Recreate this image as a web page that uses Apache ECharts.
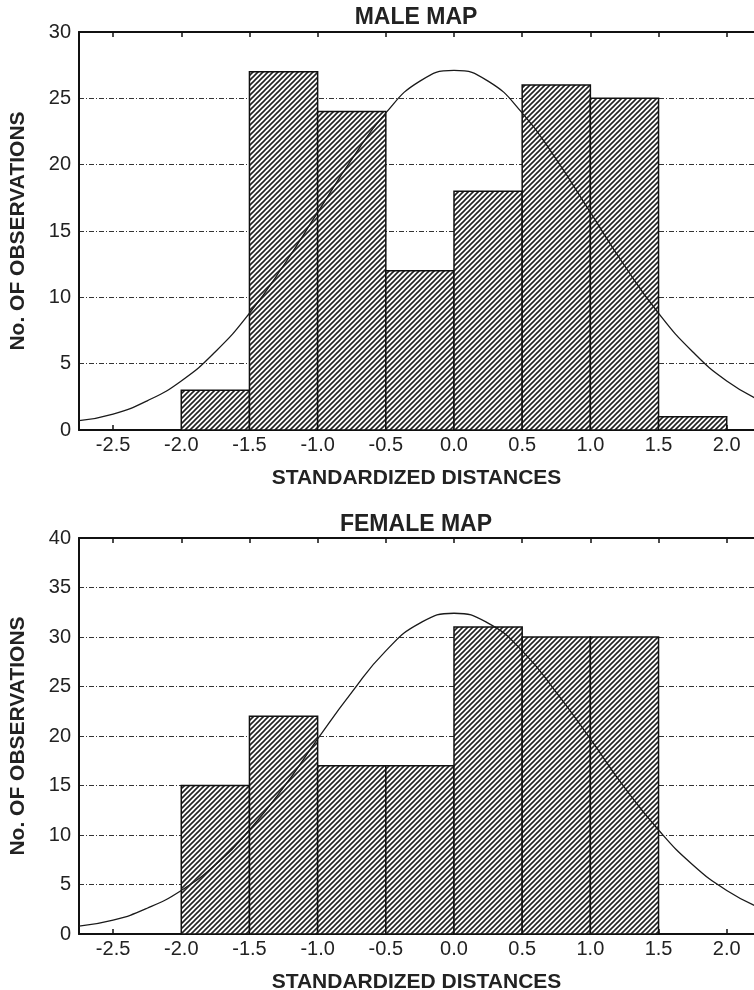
<!DOCTYPE html>
<html>
<head>
<meta charset="utf-8">
<script src="https://cdn.jsdelivr.net/npm/echarts@6/dist/echarts.min.js"></script>
<style>
  html, body { margin: 0; padding: 0; background: #fff; }
  #chart { width: 754px; height: 990px; }
</style>
</head>
<body>
<div id="chart"></div>
<script>
  // histogram bins (left edge, width 0.5)
  const binStarts = [-2.0, -1.5, -1.0, -0.5, 0.0, 0.5, 1.0, 1.5]
  const maleCounts = [3, 27, 24, 12, 18, 26, 25, 1]
  const femaleCounts = [15, 22, 17, 17, 31, 30, 30, 0]

  // fitted curves
  const curveX = [-2.75, -2.5, -2.25, -2.0, -1.75, -1.5, -1.25, -1.0, -0.75, -0.5, -0.25, 0.0,
    0.25, 0.5, 0.75, 1.0, 1.25, 1.5, 1.75, 2.0, 2.25]
  const maleCurve = [0.7, 1.2, 2.2, 3.7, 5.9, 8.8, 12.4, 16.4, 20.4, 23.9, 26.3, 27.1,
    26.3, 23.9, 20.4, 16.4, 12.4, 8.8, 5.9, 3.7, 2.2]
  const femaleCurve = [0.8, 1.4, 2.6, 4.4, 7.0, 10.5, 14.8, 19.7, 24.4, 28.6, 31.4, 32.4,
    31.4, 28.6, 24.4, 19.7, 14.8, 10.5, 7.0, 4.4, 2.6]

  const xTicks = [-2.5, -2.0, -1.5, -1.0, -0.5, 0.0, 0.5, 1.0, 1.5, 2.0]
  const titles = ["MALE MAP", "FEMALE MAP"]
  const yMax = [30, 40]

  const FONT = "Liberation Sans, Arial, sans-serif"

  const makeHatch = () => {
    const c = document.createElement("canvas")
    c.width = 5
    c.height = 5
    const ctx = c.getContext("2d")
    ctx.fillStyle = "#fff"
    ctx.fillRect(0, 0, 5, 5)
    ctx.strokeStyle = "#222"
    ctx.lineWidth = 1.6
    ctx.beginPath()
    ctx.moveTo(-1, 6); ctx.lineTo(6, -1)
    ctx.moveTo(-1, 1); ctx.lineTo(1, -1)
    ctx.moveTo(4, 6); ctx.lineTo(6, 4)
    ctx.stroke()
    return c
  }
  const hatch = makeHatch()

  const grids = [
    { left: 79, top: 32, height: 398, right: 0, outerBoundsMode: "none" },
    { left: 79, top: 538, height: 396, right: 0, outerBoundsMode: "none" }
  ]
  const titleTops = [6, 513]

  const xAxes = []
  const yAxes = []
  const series = []
  const titleOpts = []

  grids.forEach((g, i) => {
    titleOpts.push({
      text: titles[i],
      left: 416,
      textAlign: "center",
      top: titleTops[i],
      padding: 0,
      textStyle: { fontFamily: FONT, fontSize: 23, fontWeight: "bold", color: "#222" }
    })
    xAxes.push({
      type: "value",
      gridIndex: i,
      min: -2.75,
      max: 2.2,
      position: "bottom",
      axisLine: { onZero: false, lineStyle: { color: "#111", width: 2 } },
      axisTick: { inside: true, length: 5, customValues: xTicks, lineStyle: { color: "#111", width: 1.5 } },
      axisLabel: {
        customValues: xTicks,
        formatter: v => v.toFixed(1),
        fontFamily: FONT, fontSize: 20, color: "#222", margin: 5
      },
      splitLine: { show: false },
      name: "STANDARDIZED DISTANCES",
      nameLocation: "middle",
      nameGap: 38,
      nameTextStyle: { fontFamily: FONT, fontSize: 21, fontWeight: "bold", color: "#222" }
    })
    xAxes.push({
      type: "value",
      gridIndex: i,
      min: -2.75,
      max: 2.2,
      position: "top",
      axisLine: { onZero: false, lineStyle: { color: "#111", width: 2 } },
      axisTick: { inside: true, length: 5, customValues: xTicks, lineStyle: { color: "#111", width: 1.5 } },
      axisLabel: { show: false },
      splitLine: { show: false }
    })
    yAxes.push({
      type: "value",
      gridIndex: i,
      min: 0,
      max: yMax[i],
      interval: 5,
      axisLine: { show: true, onZero: false, lineStyle: { color: "#111", width: 2 } },
      axisTick: { show: false },
      axisLabel: { fontFamily: FONT, fontSize: 20, color: "#222", margin: 8 },
      splitLine: { show: true, lineStyle: { color: "#333", width: 1, type: [5, 2, 1, 2] } },
      name: "No. OF OBSERVATIONS",
      nameLocation: "middle",
      nameGap: 50,
      nameTextStyle: { fontFamily: FONT, fontSize: 21, fontWeight: "bold", color: "#222" }
    })

    const counts = i === 0 ? maleCounts : femaleCounts
    const barData = []
    binStarts.forEach((b, k) => {
      if (counts[k] > 0) barData.push([b, counts[k]])
    })
    series.push({
      type: "custom",
      xAxisIndex: i * 2,
      yAxisIndex: i,
      z: 2,
      data: barData,
      encode: { x: 0, y: 1 },
      renderItem: (params, api) => {
        const x0 = api.value(0)
        const h = api.value(1)
        const p0 = api.coord([x0, h])
        const p1 = api.coord([x0 + 0.5, 0])
        return {
          type: "rect",
          shape: { x: p0[0], y: p0[1], width: p1[0] - p0[0], height: p1[1] - p0[1] },
          style: { fill: { image: hatch, repeat: "repeat" }, stroke: "#111", lineWidth: 1.5 }
        }
      }
    })
    const curve = i === 0 ? maleCurve : femaleCurve
    series.push({
      type: "line",
      xAxisIndex: i * 2,
      yAxisIndex: i,
      z: 3,
      smooth: true,
      showSymbol: false,
      silent: true,
      data: curveX.map((x, k) => [x, curve[k]]),
      lineStyle: { color: "#1a1a1a", width: 1.3 }
    })
  })

  const chart = echarts.init(document.getElementById("chart"))
  chart.setOption({
    animation: false,
    backgroundColor: "#fff",
    title: titleOpts,
    grid: grids,
    xAxis: xAxes,
    yAxis: yAxes,
    series: series
  })
</script>
</body>
</html>
